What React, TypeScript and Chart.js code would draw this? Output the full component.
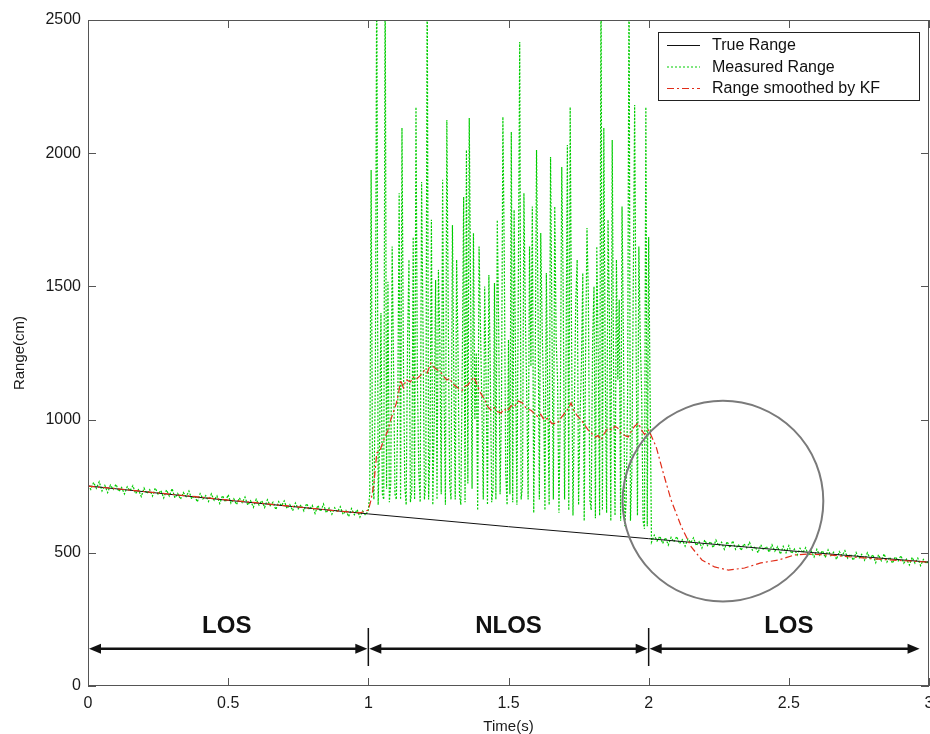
import { useEffect, useRef } from "react";
import { Chart, registerables } from "chart.js";

Chart.register(...registerables);

const FONT = '"Liberation Sans", Arial, Helvetica, sans-serif';

// ---- axes ----
const xTickValues = [0, 0.5, 1, 1.5, 2, 2.5, 3];
const yTickValues = [0, 500, 1000, 1500, 2000, 2500];
const xTitle = "Time(s)";
const yTitle = "Range(cm)";

// ---- true range ----
const trueTimes = [0, 0.5, 1, 1.5, 2, 2.5, 3];
const trueRange = [751, 697, 646, 598, 553, 508, 465];

// ---- measured range (LOS, t = 0 .. 1, every 0.01 s) ----
const los1Start = 0;
const los1Step = 0.01;
const measuredLos1 = [
  754, 738, 764, 742, 767, 732, 753, 726, 754, 738,
  757, 730, 745, 721, 748, 733, 752, 722, 737, 711,
  743, 722, 737, 713, 743, 720, 734, 706, 736, 713,
  741, 706, 723, 701, 726, 711, 732, 702, 715, 691,
  722, 702, 715, 693, 721, 697, 714, 685, 715, 691,
  718, 686, 703, 681, 706, 689, 709, 679, 695, 671,
  701, 679, 696, 670, 699, 677, 690, 662, 692, 676,
  695, 666, 681, 658, 687, 665, 680, 657, 685, 663,
  678, 648, 678, 655, 683, 650, 668, 645, 669, 654,
  673, 644, 659, 636, 666, 643, 662, 634, 657, 641,
  660,
];

// ---- measured range (NLOS, t = 1.005 .. 2.000, every 0.005 s) ----
const nlosStart = 1.005;
const nlosStep = 0.005;
const measuredNlos = [
  720, 1937, 760, 700, 1150, 2700, 680, 900, 1400, 720,
  700, 2700, 740, 1517, 690, 760, 1650, 1200, 720, 700,
  1050, 1850, 700, 2095, 1250, 750, 680, 1300, 1600, 690,
  730, 1685, 700, 2173, 1150, 800, 690, 1892, 1350, 700,
  760, 2700, 700, 900, 1750, 680, 1000, 1524, 700, 1562,
  1300, 720, 1900, 1100, 680, 2125, 1400, 760, 700, 1730,
  1150, 700, 1600, 1250, 720, 680, 1200, 1836, 690, 2012,
  760, 2132, 1450, 740, 1700, 1000, 1250, 660, 1650, 1350,
  1050, 700, 1500, 1150, 680, 1543, 1200, 690, 740, 1513,
  700, 1749, 1350, 720, 1050, 2136, 1600, 800, 680, 1300,
  720, 2080, 690, 1787, 1250, 680, 1500, 2417, 700, 750,
  1850, 1400, 1100, 700, 1650, 1200, 1800, 650, 1150, 2012,
  1450, 700, 1700, 1350, 1100, 660, 1550, 1100, 680, 1986,
  1350, 700, 1800, 1300, 1150, 650, 1050, 1948, 1500, 700,
  1200, 2031, 660, 2173, 1300, 640, 1050, 1450, 1600, 680,
  1000, 1200, 1550, 620, 1250, 1719, 1450, 700, 660, 1300,
  1500, 630, 1650, 1250, 640, 2700, 660, 2095, 1200, 650,
  1750, 1400, 620, 2050, 1150, 640, 1600, 1150, 1450, 620,
  1800, 1300, 600, 700, 1100, 2700, 620, 800, 1500, 2181,
  1300, 640, 1650, 1300, 1100, 620, 590, 2173, 600, 1685,
];

// ---- measured range (LOS, t = 2.01 .. 3.00, every 0.01 s) ----
const los2Start = 2.01;
const los2Step = 0.01;
const measuredLos2 = [
  540, 566, 544, 562, 535, 557, 529, 558, 541, 561,
  534, 549, 525, 552, 538, 556, 527, 542, 518, 548,
  527, 542, 519, 548, 526, 540, 513, 542, 519, 545,
  513, 531, 509, 534, 519, 539, 510, 523, 500, 530,
  511, 524, 502, 530, 506, 523, 495, 524, 500, 527,
  497, 514, 492, 517, 500, 519, 490, 506, 484, 513,
  491, 508, 482, 511, 489, 502, 475, 505, 489, 508,
  480, 495, 472, 501, 479, 494, 472, 500, 478, 493,
  463, 493, 470, 496, 465, 484, 461, 485, 470, 489,
  461, 476, 454, 483, 461, 480, 452, 475, 459, 474,
];

// ---- range smoothed by KF ----
const kfTimes = [
  0, 0.1, 0.2, 0.3, 0.4, 0.5, 0.6, 0.7, 0.8, 0.9, 0.97, 1.0,
  1.01, 1.02, 1.03, 1.04, 1.055, 1.07, 1.08, 1.09, 1.1, 1.108, 1.115, 1.125, 1.135, 1.15,
  1.16, 1.17, 1.187, 1.2, 1.21, 1.223, 1.235, 1.247, 1.26, 1.27, 1.28, 1.29, 1.3, 1.32,
  1.335, 1.345, 1.355, 1.365, 1.377, 1.39, 1.4, 1.415, 1.425, 1.437, 1.45, 1.46, 1.473, 1.485,
  1.495, 1.51, 1.52, 1.535, 1.55, 1.565, 1.58, 1.59, 1.605, 1.615, 1.627, 1.64, 1.655, 1.675,
  1.69, 1.705, 1.715, 1.723, 1.735, 1.745, 1.76, 1.775, 1.785, 1.795, 1.81, 1.82, 1.83, 1.84,
  1.855, 1.87, 1.88, 1.89, 1.9, 1.915, 1.927, 1.94, 1.95, 1.963, 1.975, 1.985, 2.0,
  2.027, 2.052, 2.08, 2.117, 2.152, 2.19, 2.235, 2.284, 2.342, 2.4, 2.463, 2.52,
  2.57, 2.65, 2.75, 2.85, 2.95, 3.0,
];
const kfValues = [
  750, 741, 730, 719, 709, 698, 688, 677, 667, 656, 650, 660,
  700, 760, 875, 880, 923, 960, 1000, 1030, 1062, 1100, 1149, 1120, 1150, 1141,
  1160, 1150, 1167, 1185, 1175, 1212, 1195, 1186, 1175, 1160, 1149, 1155, 1135, 1119,
  1110, 1125, 1130, 1145, 1160, 1125, 1100, 1075, 1050, 1036, 1045, 1030, 1025, 1040,
  1030, 1052, 1047, 1070, 1062, 1040, 1035, 1025, 1010, 1020, 998, 1005, 985, 987,
  1010, 1030, 1045, 1062, 1030, 1015, 998, 975, 960, 950, 935, 940, 923, 945,
  968, 960, 975, 968, 950, 940, 935, 960, 975, 987, 960, 945, 961,
  897, 800, 698, 597, 522, 473, 447, 435, 443, 462, 473, 492,
  495, 491, 482, 474, 468, 465,
];

// ---- annotations ----
const regionStarts = [0, 1, 2];
const regionEnds = [1, 2, 2.97];
const regionLabels = ["LOS", "NLOS", "LOS"];
const regionLabelX = [0.495, 1.5, 2.5];
const regionLabelY = 225;
const arrowY = 140;
const dividerX = [1, 2];
const dividerY = [75, 218];
const circleCenter = [2.265, 694];
const circleRadiusX = 0.358; // in x units

const legendLabels = ["True Range", "Measured Range", "Range smoothed by KF"];

const GREEN = "rgb(0, 205, 0)";
const RED = "rgb(225, 45, 25)";
const BLACK = "#111";

const overlayPlugin = {
  id: "overlay",
  afterDatasetsDraw(chart: any) {
    const { ctx, chartArea: a, scales } = chart;
    const x = scales.x;
    const y = scales.y;
    ctx.save();

    // axes box
    ctx.strokeStyle = "#555";
    ctx.lineWidth = 1;
    ctx.strokeRect(a.left + 0.5, a.top + 0.5, a.right - a.left - 1, a.bottom - a.top - 1);

    // inward ticks
    const tl = 8;
    ctx.beginPath();
    xTickValues.forEach((v) => {
      const px = Math.round(x.getPixelForValue(v)) + 0.5;
      ctx.moveTo(px, a.bottom);
      ctx.lineTo(px, a.bottom - tl);
      ctx.moveTo(px, a.top);
      ctx.lineTo(px, a.top + tl);
    });
    yTickValues.forEach((v) => {
      const py = Math.round(y.getPixelForValue(v)) + 0.5;
      ctx.moveTo(a.left, py);
      ctx.lineTo(a.left + tl, py);
      ctx.moveTo(a.right, py);
      ctx.lineTo(a.right - tl, py);
    });
    ctx.stroke();

    // circle
    const cx = x.getPixelForValue(circleCenter[0]);
    const cy = y.getPixelForValue(circleCenter[1]);
    const r = x.getPixelForValue(circleCenter[0] + circleRadiusX) - cx;
    ctx.strokeStyle = "#7a7a7a";
    ctx.lineWidth = 2;
    ctx.beginPath();
    ctx.arc(cx, cy, r, 0, Math.PI * 2);
    ctx.stroke();

    // arrows
    const ay = y.getPixelForValue(arrowY);
    const headL = 12;
    const headW = 5;
    const head = (tip: number, dir: number) => {
      ctx.beginPath();
      ctx.moveTo(tip, ay);
      ctx.lineTo(tip - dir * headL, ay - headW);
      ctx.lineTo(tip - dir * headL, ay + headW);
      ctx.closePath();
      ctx.fill();
    };
    ctx.fillStyle = BLACK;
    ctx.strokeStyle = BLACK;
    regionStarts.forEach((s, i) => {
      const x0 = x.getPixelForValue(s) + 1;
      const x1 = x.getPixelForValue(regionEnds[i]) - 1;
      ctx.lineWidth = 2.5;
      ctx.beginPath();
      ctx.moveTo(x0 + headL - 1, ay);
      ctx.lineTo(x1 - headL + 1, ay);
      ctx.stroke();
      head(x0, -1);
      head(x1, 1);
    });
    ctx.lineWidth = 1.5;
    ctx.beginPath();
    dividerX.forEach((d) => {
      const px = x.getPixelForValue(d);
      ctx.moveTo(px, y.getPixelForValue(dividerY[0]));
      ctx.lineTo(px, y.getPixelForValue(dividerY[1]));
    });
    ctx.stroke();

    ctx.font = `bold 24px ${FONT}`;
    ctx.textAlign = "center";
    ctx.textBaseline = "middle";
    regionLabels.forEach((lab, i) => {
      ctx.fillText(lab, x.getPixelForValue(regionLabelX[i]), y.getPixelForValue(regionLabelY));
    });

    // legend
    const lx = 658;
    const ly = 32;
    const lw = 261;
    const lh = 68;
    ctx.fillStyle = "#fff";
    ctx.fillRect(lx, ly, lw, lh);
    ctx.strokeStyle = "#222";
    ctx.lineWidth = 1;
    ctx.strokeRect(lx + 0.5, ly + 0.5, lw, lh);
    const styles = [
      { c: BLACK, d: [] as number[] },
      { c: GREEN, d: [2, 2] },
      { c: RED, d: [7, 3, 2, 3] },
    ];
    ctx.font = `16px ${FONT}`;
    ctx.textAlign = "left";
    ctx.textBaseline = "middle";
    legendLabels.forEach((lab, i) => {
      const yy = ly + 13 + i * 21.5;
      ctx.strokeStyle = styles[i].c;
      ctx.setLineDash(styles[i].d);
      ctx.lineWidth = 1;
      ctx.beginPath();
      ctx.moveTo(lx + 9, yy + 0.5);
      ctx.lineTo(lx + 42, yy + 0.5);
      ctx.stroke();
      ctx.setLineDash([]);
      ctx.fillStyle = "#111";
      ctx.fillText(lab, lx + 54, yy + 1);
    });

    ctx.restore();
  },
};

export default function App() {
  const ref = useRef<HTMLCanvasElement | null>(null);

  useEffect(() => {
    if (!ref.current) return;
    const measured = [
      ...measuredLos1.map((v, i) => ({ x: los1Start + i * los1Step, y: v })),
      ...measuredNlos.map((v, i) => ({ x: nlosStart + i * nlosStep, y: v })),
      ...measuredLos2.map((v, i) => ({ x: los2Start + i * los2Step, y: v })),
    ];
    const truePts = trueTimes.map((t, i) => ({ x: t, y: trueRange[i] }));
    const kfPts = kfTimes.map((t, i) => ({ x: t, y: kfValues[i] }));

    const chart = new Chart(ref.current, {
      type: "line",
      data: {
        datasets: [
          {
            label: legendLabels[2],
            data: kfPts,
            borderColor: RED,
            borderWidth: 1.2,
            borderDash: [7, 3, 2, 3],
            pointRadius: 0,
            tension: 0,
          },
          {
            label: legendLabels[0],
            data: truePts,
            borderColor: BLACK,
            borderWidth: 1,
            pointRadius: 0,
            tension: 0,
          },
          {
            label: legendLabels[1],
            data: measured,
            borderColor: GREEN,
            borderWidth: 1.2,
            borderDash: [2, 1.5],
            pointRadius: 0,
            tension: 0,
          },
        ],
      },
      options: {
        responsive: false,
        animation: false,
        devicePixelRatio: 1,
        layout: { padding: { top: 20, right: 1, left: 0, bottom: 0 } },
        plugins: {
          legend: { display: false },
          tooltip: { enabled: false },
        },
        scales: {
          x: {
            type: "linear",
            min: 0,
            max: 3,
            grid: { display: false, drawTicks: false },
            border: { display: false },
            afterBuildTicks: (s: any) => {
              s.ticks = xTickValues.map((v) => ({ value: v }));
            },
            afterFit: (s: any) => {
              s.height = 48;
              s.paddingRight = 0;
            },
            ticks: {
              autoSkip: false,
              maxRotation: 0,
              padding: 8,
              color: "#1a1a1a",
              font: { family: FONT, size: 16 },
              callback: (v: any) => String(v),
            },
            title: {
              display: true,
              text: xTitle,
              color: "#1a1a1a",
              font: { family: FONT, size: 15 },
              padding: { top: 0, bottom: -2 },
            },
          },
          y: {
            type: "linear",
            min: 0,
            max: 2500,
            grid: { display: false, drawTicks: false },
            border: { display: false },
            afterBuildTicks: (s: any) => {
              s.ticks = yTickValues.map((v) => ({ value: v }));
            },
            afterFit: (s: any) => {
              s.width = 88;
            },
            ticks: {
              autoSkip: false,
              padding: 7,
              color: "#1a1a1a",
              font: { family: FONT, size: 16 },
              callback: (v: any) => String(v),
            },
            title: {
              display: true,
              text: yTitle,
              color: "#1a1a1a",
              font: { family: FONT, size: 15 },
              padding: { top: 11, bottom: 0 },
            },
          },
        },
      },
      plugins: [overlayPlugin],
    });
    return () => chart.destroy();
  }, []);

  return (
    <div
      style={{
        position: "fixed",
        left: 0,
        top: 0,
        width: 930,
        height: 734,
        background: "#fff",
        overflow: "hidden",
      }}
    >
      <canvas ref={ref} width={930} height={734} style={{ display: "block" }} />
    </div>
  );
}
